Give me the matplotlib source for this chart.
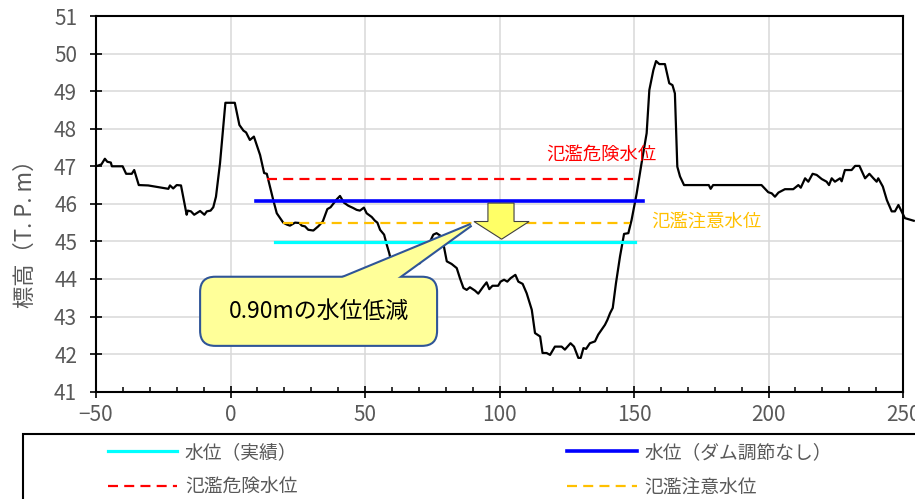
import matplotlib
matplotlib.use('Agg')
from matplotlib import pyplot as plt
from matplotlib.lines import Line2D
from matplotlib.patches import FancyBboxPatch, Polygon, Rectangle
from matplotlib.ticker import MultipleLocator

plt.rcParams['font.family'] = ['Noto Sans CJK JP', 'DejaVu Sans']

# 横断面（距離, 標高）
dist = [-50, -48.0, -46.7, -45.8, -44.5, -44.1, -40.1, -38.8, -36.7, -35.8,
        -34.1, -30.6, -23.1, -22.5, -21.3, -20.0, -18.4, -16.3, -15.9, -14.7,
        -13.5, -11.3, -9.7, -8.8, -7.4, -6.4, -5.4, -3.9, -1.9, 1.6,
        3.3, 4.8, 5.8, 7.2, 8.7, 11.0, 12.5, 13.5, 15.9, 17.2,
        19.6, 20.9, 22.1, 24.0, 25.6, 26.5, 27.7, 28.9, 30.8, 32.6,
        34.3, 36.0, 37.2, 39.5, 40.7, 42.2, 43.8, 45.6, 46.9, 48.1,
        49.6, 50.6, 52.5, 53.7, 54.6, 55.6, 57.1, 58.1, 59.0, 59.9,
        62.0, 65.0, 68.0, 70.4, 75.4, 76.6, 78.5, 79.1, 80.4, 82.2,
        84.1, 85.3, 86.6, 87.8, 89.0, 90.9, 92.1, 94.0, 95.2, 96.2,
        97.4, 99.5, 100.4, 101.7, 102.9, 104.1, 105.9, 107.0, 108.6, 110.1,
        112.0, 113.2, 115.1, 116.0, 117.5, 118.8, 120.6, 123.1, 124.3, 126.4,
        127.7, 129.3, 130.2, 131.2, 132.2, 133.6, 135.5, 136.7, 139.2, 140.1,
        141.1, 142.1, 143.3, 144.8, 146.3, 147.9, 149.1, 151.0, 152.8, 154.7,
        155.7, 157.2, 158.2, 159.4, 161.5, 163.1, 164.3, 165.2, 166.1, 167.1,
        168.6, 177.8, 178.5, 179.4, 197.4, 199.9, 201.2, 202.4, 203.7, 206.1,
        209.2, 211.1, 212.0, 213.6, 214.8, 216.4, 217.9, 219.8, 221.6, 222.5,
        223.5, 224.7, 226.6, 227.2, 228.4, 230.9, 232.2, 233.8, 235.9, 237.5,
        239.0, 240.2, 240.8, 242.5, 244.0, 245.8, 247.0, 248.3, 250.7, 254.0]
elev = [47.0, 47.05, 47.2, 47.12, 47.1, 47.0, 47.0, 46.8, 46.8, 46.9,
        46.5, 46.49, 46.4, 46.49, 46.41, 46.5, 46.49, 45.71, 45.82, 45.8,
        45.71, 45.81, 45.71, 45.8, 45.82, 45.91, 46.19, 47.08, 48.69, 48.69,
        48.1, 47.95, 47.9, 47.7, 47.79, 47.3, 46.82, 46.8, 46.1, 45.75,
        45.5, 45.45, 45.42, 45.5, 45.49, 45.42, 45.4, 45.31, 45.29, 45.4,
        45.53, 45.86, 45.91, 46.12, 46.21, 46.03, 45.95, 45.89, 45.84, 45.82,
        45.9, 45.75, 45.65, 45.55, 45.5, 45.31, 45.18, 44.91, 44.69, 44.42,
        44.35, 44.45, 44.4, 44.42, 45.18, 45.22, 45.13, 44.95, 44.47, 44.4,
        44.29, 44.02, 43.76, 43.71, 43.78, 43.69, 43.61, 43.8, 43.91, 43.73,
        43.82, 43.82, 43.93, 43.98, 43.93, 44.02, 44.11, 43.93, 43.87, 43.62,
        43.18, 42.56, 42.47, 42.03, 42.03, 41.98, 42.2, 42.2, 42.12, 42.29,
        42.2, 41.9, 41.9, 42.16, 42.14, 42.29, 42.34, 42.52, 42.78, 42.91,
        43.09, 43.23, 43.89, 44.6, 45.2, 45.22, 45.57, 46.28, 47.08, 47.88,
        49.03, 49.56, 49.8, 49.72, 49.72, 49.21, 49.16, 48.94, 46.99, 46.73,
        46.5, 46.5, 46.4, 46.5, 46.5, 46.31, 46.28, 46.19, 46.3, 46.39,
        46.39, 46.5, 46.43, 46.68, 46.59, 46.8, 46.77, 46.66, 46.59, 46.5,
        46.68, 46.59, 46.68, 46.6, 46.9, 46.9, 47.01, 47.01, 46.68, 46.8,
        46.68, 46.59, 46.68, 46.46, 46.1, 45.8, 45.8, 45.97, 45.62, 45.55]

# 水位線（左端, 右端, 標高）
wl_actual = [16.5, 150.4, 44.98]     # 水位（実績）
wl_nodam = [9.5, 153.5, 46.07]       # 水位（ダム調節なし）
wl_danger = [13.5, 149.5, 46.67]     # 氾濫危険水位
wl_caution = [19.4, 148.5, 45.49]    # 氾濫注意水位

labels = ['水位（実績）', '氾濫危険水位', '水位（ダム調節なし）', '氾濫注意水位']
callout_text = '0.90mの水位低減'

gray = '#595959'

fig = plt.figure(figsize=(9.15, 4.99), dpi=100)
ax = fig.add_axes([96 / 915, 1 - 391.7 / 499, 807 / 915, 375.7 / 499])

ax.plot(dist, elev, color='black', lw=1.6, zorder=3, clip_on=False)

ax.plot(wl_danger[:2], [wl_danger[2]] * 2, color='#FF0000', lw=1.6,
        dashes=(4.5, 2.8), zorder=4)
ax.plot(wl_caution[:2], [wl_caution[2]] * 2, color='#FFC000', lw=1.6,
        dashes=(4.5, 2.8), zorder=4)
ax.plot(wl_nodam[:2], [wl_nodam[2]] * 2, color='#0000FF', lw=2.6, zorder=4)
ax.plot(wl_actual[:2], [wl_actual[2]] * 2, color='#00FFFF', lw=2.3, zorder=4)

ax.text(138.0, 47.30, '氾濫危険水位', color='#FF0000', fontsize=13.2,
        ha='center', va='center')
ax.text(176.8, 45.53, '氾濫注意水位', color='#FFC000', fontsize=13.2,
        ha='center', va='center')

# 下向き矢印
arrow = Polygon([(95.7, 46.02), (105.4, 46.02), (105.4, 45.53), (111.0, 45.53),
                 (100.8, 45.06), (90.5, 45.53), (95.7, 45.53)],
                closed=True, fc='#FFFF66', ec='#404040', lw=0.8, zorder=6)
ax.add_patch(arrow)

# 吹き出し
asp = (807 / 300) / (375.7 / 10)
box_x0, box_x1, box_y0, box_y1 = -11.3, 76.8, 42.22, 44.06
tail = [(40.0, box_y1 - 0.08), (89.4, 45.44), (61.2, box_y1 - 0.08)]
ax.add_patch(Polygon(tail, closed=True, fc='#FFFF99', ec='#2F5597', lw=3.0,
                     zorder=7))
ax.add_patch(FancyBboxPatch((box_x0, box_y0), box_x1 - box_x0, box_y1 - box_y0,
                            boxstyle='round,pad=0,rounding_size=5.6',
                            mutation_aspect=asp, fc='#FFFF99', ec='#2F5597',
                            lw=1.5, zorder=8))
ax.add_patch(Polygon(tail, closed=True, fc='#FFFF99', ec='none', zorder=9))
ax.text((box_x0 + box_x1) / 2, (box_y0 + box_y1) / 2, callout_text,
        fontsize=16.5, ha='center', va='center', color='black', zorder=10)

ax.set_xlim(-50, 250)
ax.set_ylim(41, 51)
ax.xaxis.set_major_locator(MultipleLocator(50))
ax.xaxis.set_minor_locator(MultipleLocator(10))
ax.yaxis.set_major_locator(MultipleLocator(1))
ax.grid(True, which='major', color='#D9D9D9', lw=1.1, zorder=0)
ax.set_axisbelow(True)
for s in ax.spines.values():
    s.set_linewidth(1.5)
    s.set_color('black')
ax.tick_params(which='major', direction='inout', length=9, width=1.2,
               labelsize=15, labelcolor=gray)
ax.tick_params(axis='x', which='major', pad=4)
ax.tick_params(axis='y', which='major', pad=9)
ax.tick_params(axis='x', which='minor', direction='in', length=3.6, width=1.1)
for lbl in ax.get_xticklabels() + ax.get_yticklabels():
    lbl.set_clip_on(False)

fig.text(25 / 915, 1 - 228 / 499, '標高（T. P. m）', rotation=90, color=gray,
         fontsize=16, ha='center', va='center')

handles = [Line2D([], [], color='#00FFFF', lw=2.3),
           Line2D([], [], color='#FF0000', lw=1.6, dashes=(4.5, 2.8)),
           Line2D([], [], color='#0000FF', lw=2.6),
           Line2D([], [], color='#FFC000', lw=1.6, dashes=(4.5, 2.8))]
fig.patches.append(Rectangle((22.7 / 915, -0.1), 1.2, (499 - 434) / 499 + 0.1,
                             transform=fig.transFigure, fill=False,
                             ec='black', lw=1.5))
fig.legend(handles, labels, loc='upper left',
           bbox_to_anchor=(108 / 915, 1 - 442 / 499), ncol=2, frameon=False,
           borderpad=0, borderaxespad=0, handlelength=3.7, handletextpad=0.4,
           columnspacing=14.4, labelspacing=0.72, fontsize=13.5,
           labelcolor=gray)

fig.savefig('out.png', dpi=100)
